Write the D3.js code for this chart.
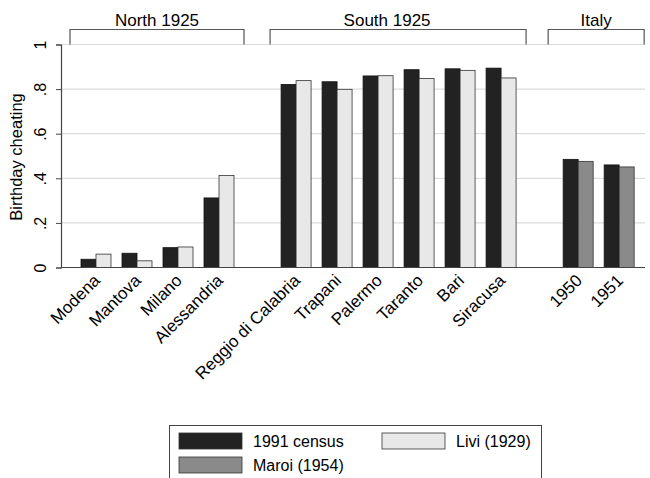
<!DOCTYPE html>
<html>
<head>
<meta charset="utf-8">
<script src="https://cdn.jsdelivr.net/npm/d3@7"></script>
<style>
  body { margin: 0; background: #fff; }
  text { font-family: "Liberation Sans", Arial, sans-serif; fill: #000; }
</style>
</head>
<body>
<script>
var w = 650;
var h = 478;

// chart data
var categories = ["Modena", "Mantova", "Milano", "Alessandria",
                  "Reggio di Calabria", "Trapani", "Palermo", "Taranto", "Bari", "Siracusa",
                  "1950", "1951"];
var groupOf = [0, 0, 0, 0, 1, 1, 1, 1, 1, 1, 2, 2];
var groupNames = ["North 1925", "South 1925", "Italy"];
var census1991 = [0.037, 0.064, 0.089, 0.312, 0.821, 0.833, 0.859, 0.887, 0.891, 0.894, 0.485, 0.460];
var secondValues = [0.060, 0.030, 0.092, 0.413, 0.838, 0.799, 0.860, 0.848, 0.884, 0.850, 0.476, 0.451];
var secondSeries = ["Livi (1929)", "Livi (1929)", "Livi (1929)", "Livi (1929)",
                    "Livi (1929)", "Livi (1929)", "Livi (1929)", "Livi (1929)", "Livi (1929)", "Livi (1929)",
                    "Maroi (1954)", "Maroi (1954)"];
var yTicks = [0, 0.2, 0.4, 0.6, 0.8, 1];
var yTickLabels = ["0", ".2", ".4", ".6", ".8", "1"];
var legendItems = ["1991 census", "Livi (1929)", "Maroi (1954)"];

var colors = {"1991 census": "#222222", "Livi (1929)": "#e8e8e8", "Maroi (1954)": "#8a8a8a"};

var plotLeft = 61, plotRight = 645, plotTop = 44.5, plotBottom = 267.5;
var barW = 15;
var groupGap = 0.88;  // extra space between groups, in category units

// slot position of each category (index plus group gaps)
var slots = categories.map(function(c, i) { return i + groupOf[i] * groupGap; });

var xScale = d3.scaleLinear()
               .domain([0, 1])
               .range([81, 122]);

var yScale = d3.scaleLinear()
               .domain([0, 1])
               .range([plotBottom, plotTop]);

var svg = d3.select("body")
            .append("svg")
            .attr("width", w)
            .attr("height", h);

// gridlines
svg.append("g")
   .selectAll("line")
   .data(yTicks.slice(1))
   .enter()
   .append("line")
   .attr("x1", plotLeft)
   .attr("x2", plotRight)
   .attr("y1", function(d) { return yScale(d); })
   .attr("y2", function(d) { return yScale(d); })
   .attr("stroke", "#dcdcdc")
   .attr("stroke-width", 1.2);

// y axis
var yAxis = d3.axisLeft(yScale)
              .tickValues(yTicks)
              .tickFormat(function(d, i) { return yTickLabels[i]; })
              .tickSizeOuter(0)
              .tickSize(5);

var yg = svg.append("g")
            .attr("transform", "translate(" + plotLeft + ",0)")
            .call(yAxis);
yg.select(".domain").attr("stroke", "#444").attr("stroke-width", 1.2);
yg.selectAll(".tick line").attr("stroke", "#444");
yg.selectAll(".tick text")
  .attr("font-size", 16)
  .attr("x", null)
  .attr("dy", null)
  .attr("text-anchor", "middle")
  .attr("transform", "translate(-15,0) rotate(-90)");

// y axis title
svg.append("text")
   .attr("transform", "translate(22," + ((plotTop + plotBottom) / 2 + 1) + ") rotate(-90)")
   .attr("text-anchor", "middle")
   .attr("font-size", 16.5)
   .text("Birthday cheating");

// bars
var bars = svg.append("g");
bars.selectAll("rect.a")
    .data(census1991)
    .enter()
    .append("rect")
    .attr("class", "a")
    .attr("x", function(d, i) { return xScale(slots[i]); })
    .attr("y", function(d) { return yScale(d); })
    .attr("width", barW)
    .attr("height", function(d) { return plotBottom - yScale(d); })
    .attr("fill", colors["1991 census"])
    .attr("stroke", "#111")
    .attr("stroke-width", 0.8);

bars.selectAll("rect.b")
    .data(secondValues)
    .enter()
    .append("rect")
    .attr("class", "b")
    .attr("x", function(d, i) { return xScale(slots[i]) + barW; })
    .attr("y", function(d) { return yScale(d); })
    .attr("width", barW)
    .attr("height", function(d) { return plotBottom - yScale(d); })
    .attr("fill", function(d, i) { return colors[secondSeries[i]]; })
    .attr("stroke", "#333")
    .attr("stroke-width", 0.8);

// x axis line
svg.append("line")
   .attr("x1", plotLeft)
   .attr("x2", plotRight)
   .attr("y1", plotBottom)
   .attr("y2", plotBottom)
   .attr("stroke", "#444")
   .attr("stroke-width", 1.2);

// category labels
svg.append("g")
   .selectAll("text")
   .data(categories)
   .enter()
   .append("text")
   .attr("transform", function(d, i) {
       var cx = xScale(slots[i]) + barW + 5;
       return "translate(" + cx + "," + (plotBottom + 14) + ") rotate(-45)";
   })
   .attr("text-anchor", "end")
   .attr("font-size", 17)
   .text(function(d) { return d; });

// group brackets
var groupDx = [0, -11, 0];
var groups = groupNames.map(function(name, g) {
    var idx = categories.filter(function(c, i) { return groupOf[i] === g; })
                        .map(function(c) { return categories.indexOf(c); });
    var x0 = xScale(slots[idx[0]]) - 11;
    var x1 = xScale(slots[idx[idx.length - 1]]) + 2 * barW + 10;
    return {name: name, x0: x0, x1: x1, dx: groupDx[g]};
});
groups[2].x0 -= 4;

var br = svg.append("g");
br.selectAll("path")
  .data(groups)
  .enter()
  .append("path")
  .attr("d", function(d) {
      return "M" + d.x0 + "," + plotTop + "V29.5H" + d.x1 + "V" + plotTop;
  })
  .attr("fill", "none")
  .attr("stroke", "#555")
  .attr("stroke-width", 1.2);

br.selectAll("text")
  .data(groups)
  .enter()
  .append("text")
  .attr("x", function(d) { return (d.x0 + d.x1) / 2 + d.dx; })
  .attr("y", 25.5)
  .attr("text-anchor", "middle")
  .attr("font-size", 17)
  .text(function(d) { return d.name; });

// legend
var lg = svg.append("g");
lg.append("rect")
  .attr("x", 169.5)
  .attr("y", 425.5)
  .attr("width", 372)
  .attr("height", 70)
  .attr("fill", "#fff")
  .attr("stroke", "#444")
  .attr("stroke-width", 1);

var legendPos = [[179, 433], [382, 433], [179, 457]];
legendItems.forEach(function(name, i) {
    lg.append("rect")
      .attr("x", legendPos[i][0])
      .attr("y", legendPos[i][1])
      .attr("width", 63)
      .attr("height", 16)
      .attr("fill", colors[name])
      .attr("stroke", "#333")
      .attr("stroke-width", 0.8);
    lg.append("text")
      .attr("x", legendPos[i][0] + 74)
      .attr("y", legendPos[i][1] + 14)
      .attr("font-size", 16)
      .text(name);
});
</script>
</body>
</html>
